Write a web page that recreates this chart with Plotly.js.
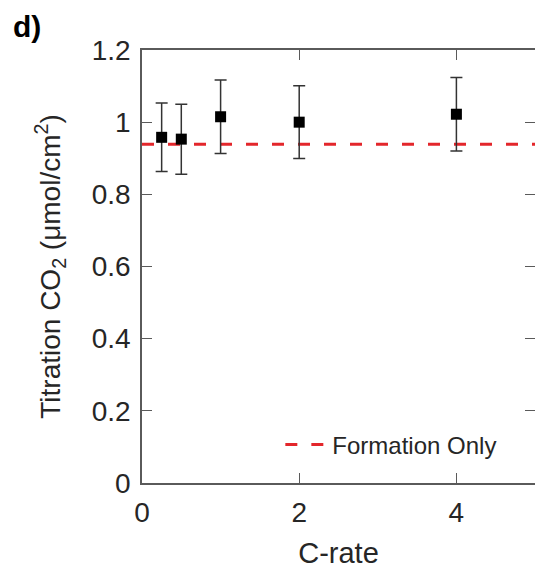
<!DOCTYPE html>
<html>
<head>
<meta charset="utf-8">
<script src="https://cdn.plot.ly/plotly-3.0.1.min.js"></script>
<style>html,body{margin:0;padding:0;background:#fff;}#chart{width:535px;height:569px;}</style>
</head>
<body>
<div id="chart"></div>
<script>
// Data
const cRate = [0.25, 0.5, 1, 2, 4];
const titrationCO2 = [0.958, 0.953, 1.015, 1.0, 1.022];
const errorBars = [0.095, 0.097, 0.102, 0.101, 0.102];
const formationOnlyX = [0, 5];
const formationOnlyY = [0.939, 0.939];
const xTicks = [0, 2, 4];
const yTicks = [0, 0.2, 0.4, 0.6, 0.8, 1, 1.2];
const yTickText = ['0', '0.2', '0.4', '0.6', '0.8', '1', '1.2'];

const fontFam = '"Liberation Sans", Arial, sans-serif';
const txt = '#262626';
const axisCol = '#5a5a5a';

const traces = [
  {
    x: formationOnlyX, y: formationOnlyY, type: 'scatter', mode: 'lines',
    name: 'Formation Only',
    line: {color: '#e3262b', width: 3, dash: '12px,14px'},
    showlegend: true, hoverinfo: 'skip'
  },
  {
    x: cRate, y: titrationCO2, type: 'scatter', mode: 'markers',
    name: 'data', showlegend: false,
    marker: {symbol: 'square', size: 11, color: '#000'},
    error_y: {type: 'data', array: errorBars, visible: true, color: '#333', thickness: 1.5, width: 6}
  }
];

const layout = {
  width: 535, height: 569,
  margin: {l: 142, r: 0, t: 50, b: 86},
  paper_bgcolor: '#fff', plot_bgcolor: '#fff',
  font: {family: fontFam, color: txt, size: 28},
  showlegend: true,
  legend: {
    x: 0.352, y: 0.088, xanchor: 'left', yanchor: 'middle',
    bgcolor: 'rgba(255,255,255,1)', borderwidth: 0, itemwidth: 42,
    font: {family: fontFam, size: 24, color: txt}
  },
  xaxis: {
    range: [0, 5], tickvals: xTicks, ticktext: xTicks.map(String),
    ticks: 'inside', ticklen: 10, tickwidth: 1.2, tickcolor: axisCol,
    showline: true, linecolor: axisCol, linewidth: 1.8, mirror: 'ticks',
    showgrid: false, zeroline: false, ticklabelstandoff: 4,
    tickfont: {family: fontFam, size: 28, color: txt},
    title: {text: 'C-rate', font: {family: fontFam, size: 29, color: txt}, standoff: 20}
  },
  yaxis: {
    range: [0, 1.2], tickvals: yTicks, ticktext: yTickText,
    ticks: 'inside', ticklen: 10, tickwidth: 1.2, tickcolor: axisCol,
    showline: true, linecolor: axisCol, linewidth: 1.8, mirror: 'ticks',
    showgrid: false, zeroline: false, ticklabelstandoff: 4,
    tickfont: {family: fontFam, size: 28, color: txt},
    title: {text: 'Titration CO<sub>2</sub> (μmol/cm<sup>2</sup>)', font: {family: fontFam, size: 28, color: txt}, standoff: 23}
  },
  annotations: [
    {text: '<b>d)</b>', xref: 'paper', yref: 'paper', x: -0.333, y: 1.055, xanchor: 'left', yanchor: 'middle',
     showarrow: false, font: {family: fontFam, size: 30, color: '#000'}}
  ]
};

Plotly.newPlot('chart', traces, layout, {displayModeBar: false, staticPlot: true});
</script>
</body>
</html>
